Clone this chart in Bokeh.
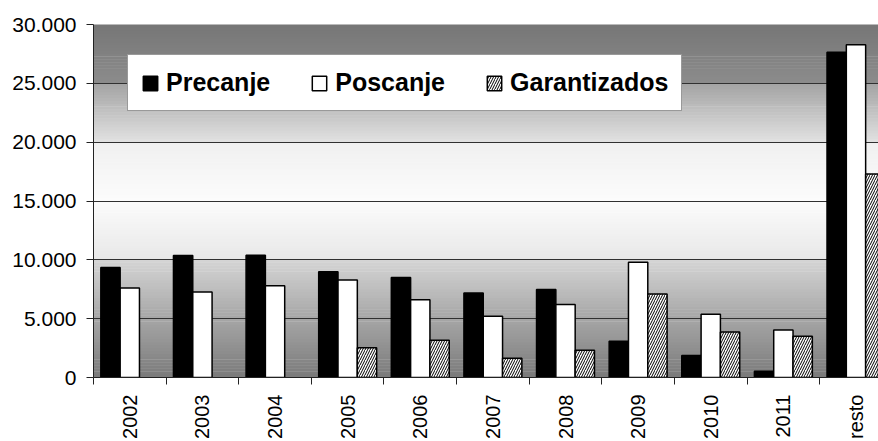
import numpy as np
from math import pi
from bokeh.plotting import figure
from bokeh.models import Range1d, FixedTicker, ColumnDataSource, Legend, LegendItem
from bokeh.embed import file_html
from bokeh.resources import INLINE

categories = ["2002", "2003", "2004", "2005", "2006", "2007", "2008", "2009", "2010", "2011", "resto"]
precanje = [9350, 10360, 10380, 8980, 8500, 7180, 7480, 3080, 1860, 530, 27650]
poscanje = [7600, 7260, 7800, 8280, 6610, 5200, 6210, 9800, 5370, 4040, 28280]
garantizados = [0, 0, 0, 2520, 3160, 1640, 2310, 7090, 3870, 3500, 17290]
y_ticks = [0, 5000, 10000, 15000, 20000, 25000, 30000]
series_names = ["Precanje", "Poscanje", "Garantizados"]

# background gradient control points (value -> gray level)
grad_pos = [0, 5000, 9999, 10001, 15000, 19999, 20001, 24999, 25001, 30000]
grad_gray = [122, 166, 213, 232, 252, 240, 226, 163, 140, 118]

n = len(categories)
p = figure(width=878, height=441, output_backend="svg", toolbar_location=None,
           x_range=Range1d(0, 10.81), y_range=Range1d(0, 30000),
           min_border_left=93, min_border_right=0, min_border_top=24, min_border_bottom=63,
           background_fill_color="white", border_fill_color="white")
p.outline_line_color = None

# gradient background
edges = np.linspace(0, 30000, 121)
bottoms = edges[:-1]
tops = edges[1:] + 40
mids = (edges[:-1] + edges[1:]) / 2
grays = np.interp(mids, grad_pos, grad_gray).round().astype(int)
colors = ["#%02x%02x%02x" % (g, g, g) for g in grays]
p.quad(left=0, right=20, bottom=bottoms, top=tops, fill_color=colors, line_color=None, level="image")

w = 0.266
centers = [i + 0.5 for i in range(n)]

def src(vals, off):
    xs = [c + off for c, v in zip(centers, vals) if v > 0]
    ys = [v for v in vals if v > 0]
    return ColumnDataSource(dict(x=xs, top=ys))

r1 = p.vbar(x="x", top="top", width=w, bottom=0, source=src(precanje, -w),
            fill_color="black", line_color="black", line_width=1.5)
r2 = p.vbar(x="x", top="top", width=w, bottom=0, source=src(poscanje, 0),
            fill_color="white", line_color="black", line_width=1.5)
r3 = p.vbar(x="x", top="top", width=w, bottom=0, source=src(garantizados, w),
            fill_color="white", line_color="black", line_width=1.5,
            hatch_pattern="/", hatch_color="black", hatch_scale=5, hatch_weight=1)

legend = Legend(items=[LegendItem(label=series_names[0], renderers=[r1]),
                       LegendItem(label=series_names[1], renderers=[r2]),
                       LegendItem(label=series_names[2], renderers=[r3])],
                orientation="horizontal", location=(34, 266), padding=13, spacing=40,
                glyph_width=18, glyph_height=18, label_standoff=7, margin=0,
                label_text_font="Liberation Sans", label_text_font_style="bold",
                label_text_font_size="25px", label_text_color="black",
                border_line_color="#333333", border_line_width=1,
                background_fill_color="white", background_fill_alpha=1.0)
p.add_layout(legend)

# y axis
p.yaxis.ticker = FixedTicker(ticks=y_ticks)
p.yaxis.major_label_overrides = {t: f"{t:,}".replace(",", ".") for t in y_ticks}
p.yaxis.major_label_text_font = "Liberation Sans"
p.yaxis.major_label_text_font_size = "21px"
p.yaxis.major_label_text_color = "black"
p.yaxis.major_tick_out = 7
p.yaxis.major_tick_in = 0
p.yaxis.minor_tick_out = 0
p.yaxis.major_tick_line_color = "#222222"
p.yaxis.axis_line_color = "#222222"
p.yaxis.major_label_standoff = 10

# x axis
p.xaxis.ticker = FixedTicker(ticks=centers, minor_ticks=list(range(n + 1)))
p.xaxis.major_label_overrides = {c: lab for c, lab in zip(centers, categories)}
p.xaxis.major_tick_line_color = None
p.xaxis.major_tick_out = 7
p.xaxis.major_tick_in = 0
p.xaxis.minor_tick_out = 7
p.xaxis.minor_tick_in = 0
p.xaxis.minor_tick_line_color = "#222222"
p.xaxis.axis_line_color = "#222222"
p.xaxis.major_label_orientation = pi / 2
p.xaxis.major_label_standoff = 10
p.xaxis.major_label_text_font = "Liberation Sans"
p.xaxis.major_label_text_font_size = "20px"
p.xaxis.major_label_text_color = "black"

# grid
p.xgrid.visible = False
p.ygrid.ticker = FixedTicker(ticks=y_ticks[1:-1])
p.ygrid.grid_line_color = "#303030"
p.ygrid.grid_line_width = 1

open("out.html", "w").write(file_html(p, INLINE))
